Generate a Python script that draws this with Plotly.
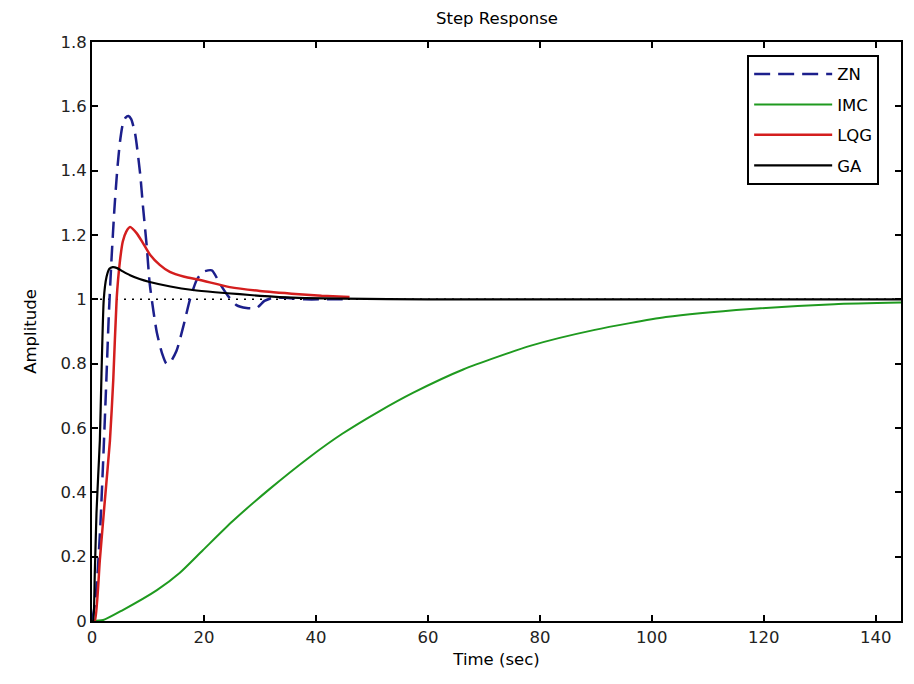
import plotly.graph_objects as go

# ---- data ----
zn_t = [0, 0.5, 1, 1.5, 2, 2.5, 3, 3.5, 4, 4.5, 5, 5.5, 6, 6.5, 7, 7.7, 8.6, 9.1, 9.8, 10.3,
        11, 11.6, 12.5, 13.3, 14, 15.1, 16.3, 17.5, 18.7, 19.8, 21.4, 22.8, 24.2, 25.8, 27.6,
        29.4, 30.8, 32.5, 35, 38, 42, 46]
zn_y = [0, 0.05, 0.15, 0.3, 0.5, 0.72, 0.95, 1.13, 1.28, 1.4, 1.49, 1.545, 1.565, 1.57, 1.56,
        1.515, 1.39, 1.29, 1.16, 1.05, 0.96, 0.895, 0.833, 0.80, 0.805, 0.84, 0.915, 1.0, 1.06,
        1.085, 1.09, 1.05, 1.013, 0.982, 0.973, 0.973, 0.995, 1.006, 1.004, 1.0, 1.0, 1.0]

imc_t = [0, 2, 5.5, 11.6, 15.7, 19.8, 25.1, 31.7, 38.9, 44.7, 51.3, 57.4, 66.3, 78.4, 89.8,
         102.5, 117.6, 132.6, 145]
imc_y = [0, 0.003, 0.034, 0.096, 0.15, 0.22, 0.31, 0.41, 0.51, 0.582, 0.652, 0.71, 0.782,
         0.856, 0.905, 0.945, 0.97, 0.985, 0.99]

lqg_t = [0, 0.5, 1.4, 2.3, 3.2, 3.8, 4.4, 5, 5.5, 6.1, 6.8, 8, 9.1, 10.3, 12.1, 13.9, 16.5,
         19.3, 24.6, 30, 37, 41, 46]
lqg_y = [0, 0, 0.19, 0.376, 0.56, 0.75, 1.0, 1.12, 1.18, 1.21, 1.225, 1.205, 1.175, 1.14,
         1.107, 1.085, 1.07, 1.06, 1.038, 1.026, 1.016, 1.011, 1.007]

ga_t = [0, 0.2, 0.5, 0.8, 1.1, 1.4, 1.7, 2.1, 2.6, 3.1, 3.7, 4.5, 5.5, 6.8, 8.5, 10.3, 14, 18,
        22, 26.4, 30, 33.5, 38, 45, 60, 100, 145]
ga_y = [0, 0, 0.15, 0.335, 0.45, 0.56, 0.77, 1.0, 1.07, 1.095, 1.10, 1.097, 1.087, 1.075,
        1.063, 1.054, 1.04, 1.029, 1.022, 1.016, 1.011, 1.007, 1.004, 1.002, 1.0, 1.0, 1.0]

ref_t = [0, 145]
ref_y = [1.0, 1.0]

x_ticks = [0, 20, 40, 60, 80, 100, 120, 140]
y_ticks = [0, 0.2, 0.4, 0.6, 0.8, 1.0, 1.2, 1.4, 1.6, 1.8]

FONT = "DejaVu Sans, Verdana, sans-serif"

fig = go.Figure()
fig.add_trace(go.Scatter(x=ref_t, y=ref_y, mode="lines", showlegend=False,
                         line=dict(color="black", width=1.5, dash="2px,6px"), hoverinfo="skip"))
fig.add_trace(go.Scatter(x=zn_t, y=zn_y, mode="lines", name="ZN", legendgroup="a",
                         line=dict(color="#1c1f8c", width=2.5, dash="16px,8px", shape="spline", smoothing=0.6)))
fig.add_trace(go.Scatter(x=imc_t, y=imc_y, mode="lines", name="IMC", legendgroup="b",
                         line=dict(color="#1f9a1f", width=2, shape="spline", smoothing=0.6)))
fig.add_trace(go.Scatter(x=lqg_t, y=lqg_y, mode="lines", name="LQG", legendgroup="c",
                         line=dict(color="#d41e1e", width=2.5, shape="spline", smoothing=0.5)))
fig.add_trace(go.Scatter(x=ga_t, y=ga_y, mode="lines", name="GA", legendgroup="d",
                         line=dict(color="black", width=2.2, shape="spline", smoothing=0.5)))

axis_common = dict(showline=True, linecolor="black", linewidth=2, mirror="ticks",
                   ticks="inside", ticklen=6, tickcolor="black", tickwidth=1.5,
                   showgrid=False, zeroline=False,
                   tickfont=dict(family=FONT, size=16.5, color="#222222"))

fig.update_layout(
    width=914, height=684,
    paper_bgcolor="white", plot_bgcolor="white",
    margin=dict(l=84, r=21, t=34, b=71),
    title=dict(text="Step Response", x=0.535, xanchor="center", y=0.985, yanchor="middle",
               font=dict(family=FONT, size=16.5, color="black")),
    xaxis=dict(range=[0, 144.5], tickvals=x_ticks,
               title=dict(text="Time (sec)", font=dict(family=FONT, size=16.5, color="black"), standoff=8),
               **axis_common),
    yaxis=dict(range=[0, 1.8], tickvals=y_ticks,
               title=dict(text="Amplitude", font=dict(family=FONT, size=16.5, color="black"), standoff=20),
               **axis_common),
    legend=dict(x=0.973, xanchor="right", y=0.978, yanchor="top",
                bgcolor="white", bordercolor="black", borderwidth=2,
                font=dict(family=FONT, size=16.5, color="black"),
                itemwidth=78, tracegroupgap=6, traceorder="grouped"),
)

fig.write_html("out.html")
